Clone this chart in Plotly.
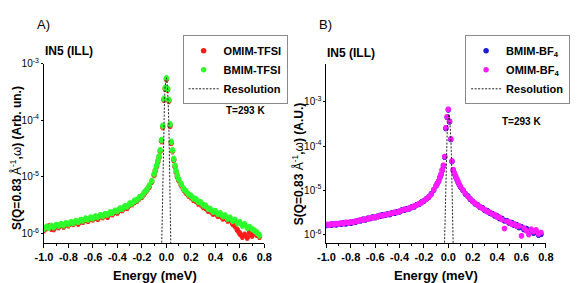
import plotly.graph_objects as go

W, H = 582, 283

# ---------------- data ----------------
energy = [
    -1.00, -0.98, -0.96, -0.94, -0.92, -0.90, -0.88, -0.86, -0.84, -0.82,
    -0.80, -0.78, -0.76, -0.74, -0.72, -0.70, -0.68, -0.66, -0.64, -0.62,
    -0.60, -0.58, -0.56, -0.54, -0.52, -0.50, -0.48, -0.46, -0.44, -0.42,
    -0.40, -0.38, -0.36, -0.34, -0.32, -0.30, -0.28, -0.26, -0.24, -0.22,
    -0.20, -0.18, -0.16, -0.14, -0.12, -0.10, -0.09, -0.08, -0.07, -0.06,
    -0.05, -0.04, -0.03, -0.02, -0.01, 0.00, 0.01, 0.02, 0.03, 0.04,
    0.05, 0.06, 0.07, 0.08, 0.09, 0.10, 0.12, 0.14, 0.16, 0.18,
    0.20, 0.22, 0.24, 0.26, 0.28, 0.30, 0.32, 0.34, 0.36, 0.38,
    0.40, 0.42, 0.44, 0.46, 0.48, 0.50, 0.52, 0.54, 0.56, 0.58,
    0.60, 0.62, 0.64, 0.66, 0.68, 0.70, 0.72, 0.74, 0.76]

omim_tfsi = [
    1.15e-6, 1.25e-6, 1.33e-6, 1.22e-6, 1.20e-6, 1.35e-6, 1.30e-6, 1.42e-6, 1.33e-6, 1.45e-6,
    1.40e-6, 1.52e-6, 1.48e-6, 1.60e-6, 1.50e-6, 1.65e-6, 1.62e-6, 1.75e-6, 1.68e-6, 1.85e-6,
    1.78e-6, 1.92e-6, 1.82e-6, 2.02e-6, 1.95e-6, 2.12e-6, 1.98e-6, 2.28e-6, 2.20e-6, 2.42e-6,
    2.35e-6, 2.65e-6, 2.60e-6, 2.90e-6, 2.85e-6, 3.25e-6, 3.30e-6, 3.65e-6, 3.80e-6, 4.20e-6,
    4.45e-6, 5.10e-6, 5.80e-6, 6.70e-6, 8.20e-6, 1.08e-5, 1.28e-5, 1.52e-5, 1.85e-5, 2.22e-5,
    2.85e-5, 4.30e-5, 7.60e-5, 2.30e-4, 3.60e-4, 5.30e-4, 3.50e-4, 2.20e-4, 8.00e-5, 4.00e-5,
    2.85e-5, 2.00e-5, 1.52e-5, 1.22e-5, 1.00e-5, 8.80e-6, 7.20e-6, 6.00e-6, 5.30e-6, 4.70e-6,
    4.40e-6, 3.95e-6, 3.80e-6, 3.40e-6, 3.30e-6, 2.95e-6, 2.85e-6, 2.55e-6, 2.50e-6, 2.25e-6,
    2.30e-6, 2.05e-6, 2.10e-6, 1.85e-6, 1.90e-6, 1.70e-6, 1.75e-6, 1.50e-6, 1.35e-6, 1.15e-6,
    1.00e-6, 0.88e-6, 0.95e-6, 0.85e-6, 1.05e-6, 0.92e-6, 1.10e-6, 0.95e-6, 0.88e-6]

bmim_tfsi = [
    1.22e-6, 1.31e-6, 1.27e-6, 1.36e-6, 1.30e-6, 1.41e-6, 1.38e-6, 1.46e-6, 1.40e-6, 1.51e-6,
    1.47e-6, 1.58e-6, 1.54e-6, 1.66e-6, 1.61e-6, 1.73e-6, 1.70e-6, 1.83e-6, 1.77e-6, 1.90e-6,
    1.86e-6, 2.00e-6, 1.95e-6, 2.10e-6, 2.03e-6, 2.19e-6, 2.17e-6, 2.35e-6, 2.33e-6, 2.52e-6,
    2.50e-6, 2.76e-6, 2.74e-6, 3.02e-6, 3.01e-6, 3.38e-6, 3.40e-6, 3.80e-6, 3.92e-6, 4.35e-6,
    4.60e-6, 5.32e-6, 5.95e-6, 7.00e-6, 8.45e-6, 1.12e-5, 1.32e-5, 1.58e-5, 1.91e-5, 2.29e-5,
    2.95e-5, 4.47e-5, 7.94e-5, 2.40e-4, 3.72e-4, 5.50e-4, 3.60e-4, 2.30e-4, 8.50e-5, 4.17e-5,
    2.95e-5, 2.09e-5, 1.58e-5, 1.26e-5, 1.05e-5, 9.12e-6, 7.55e-6, 6.20e-6, 5.60e-6, 4.92e-6,
    4.66e-6, 4.18e-6, 4.06e-6, 3.64e-6, 3.55e-6, 3.16e-6, 3.10e-6, 2.75e-6, 2.71e-6, 2.44e-6,
    2.48e-6, 2.22e-6, 2.27e-6, 2.02e-6, 2.08e-6, 1.84e-6, 1.90e-6, 1.67e-6, 1.74e-6, 1.52e-6,
    1.58e-6, 1.38e-6, 1.45e-6, 1.26e-6, 1.30e-6, 1.20e-6, 1.12e-6, 1.04e-6, 0.93e-6]

bmim_bf4 = [
    1.58e-6, 1.66e-6, 1.60e-6, 1.70e-6, 1.64e-6, 1.74e-6, 1.69e-6, 1.80e-6, 1.72e-6, 1.84e-6,
    1.77e-6, 1.90e-6, 1.88e-6, 2.05e-6, 2.02e-6, 2.18e-6, 2.12e-6, 2.30e-6, 2.27e-6, 2.45e-6,
    2.38e-6, 2.57e-6, 2.55e-6, 2.75e-6, 2.68e-6, 2.88e-6, 2.80e-6, 3.08e-6, 3.00e-6, 3.24e-6,
    3.22e-6, 3.55e-6, 3.55e-6, 3.80e-6, 3.80e-6, 4.15e-6, 4.18e-6, 4.66e-6, 4.80e-6, 5.35e-6,
    5.65e-6, 6.40e-6, 6.95e-6, 8.25e-6, 1.00e-5, 1.26e-5, 1.41e-5, 1.58e-5, 1.91e-5, 2.24e-5,
    2.82e-5, 3.55e-5, 5.62e-5, 2.51e-4, 4.47e-4, 6.61e-4, 3.55e-4, 1.41e-4, 4.47e-5, 2.82e-5,
    2.40e-5, 2.00e-5, 1.74e-5, 1.51e-5, 1.32e-5, 1.17e-5, 9.90e-6, 8.20e-6, 7.35e-6, 6.20e-6,
    5.60e-6, 4.90e-6, 4.67e-6, 4.08e-6, 3.98e-6, 3.47e-6, 3.39e-6, 3.02e-6, 2.95e-6, 2.62e-6,
    2.58e-6, 2.28e-6, 2.28e-6, 2.03e-6, 2.03e-6, 1.80e-6, 1.84e-6, 1.60e-6, 1.64e-6, 1.42e-6,
    1.47e-6, 1.28e-6, 1.35e-6, 1.17e-6, 1.22e-6, 1.07e-6, 1.12e-6, 0.96e-6, 1.00e-6]

omim_bf4 = [
    1.68e-6, 1.60e-6, 1.72e-6, 1.65e-6, 1.76e-6, 1.68e-6, 1.80e-6, 1.74e-6, 1.86e-6, 1.78e-6,
    1.92e-6, 1.85e-6, 1.98e-6, 1.98e-6, 2.12e-6, 2.08e-6, 2.22e-6, 2.20e-6, 2.38e-6, 2.35e-6,
    2.48e-6, 2.45e-6, 2.68e-6, 2.62e-6, 2.80e-6, 2.78e-6, 2.95e-6, 2.98e-6, 3.15e-6, 3.12e-6,
    3.35e-6, 3.45e-6, 3.70e-6, 3.65e-6, 3.95e-6, 4.05e-6, 4.35e-6, 4.55e-6, 4.95e-6, 5.20e-6,
    5.80e-6, 6.30e-6, 7.15e-6, 8.10e-6, 1.02e-5, 1.28e-5, 1.43e-5, 1.60e-5, 1.95e-5, 2.30e-5,
    2.90e-5, 3.65e-5, 5.80e-5, 2.60e-4, 4.60e-4, 6.80e-4, 3.65e-4, 1.45e-4, 4.60e-5, 2.90e-5,
    2.45e-5, 2.05e-5, 1.78e-5, 1.55e-5, 1.35e-5, 1.20e-5, 1.00e-5, 8.40e-6, 7.20e-6, 6.40e-6,
    5.50e-6, 5.05e-6, 4.55e-6, 4.20e-6, 3.85e-6, 3.60e-6, 3.25e-6, 3.15e-6, 2.82e-6, 2.78e-6,
    2.45e-6, 2.42e-6, 2.15e-6, 1.35e-6, 1.95e-6, 1.88e-6, 1.70e-6, 1.72e-6, 1.52e-6, 1.55e-6,
    0.92e-6, 1.38e-6, 1.20e-6, 0.98e-6, 1.30e-6, 1.15e-6, 1.25e-6, 1.02e-6, 1.10e-6]

res_energy_a = [-0.050, -0.045, -0.040, -0.035, -0.030, -0.025, -0.020, -0.015, -0.010, -0.005,
                0.000, 0.005, 0.010, 0.015, 0.020, 0.025, 0.030, 0.035, 0.040, 0.045]
res_a = [3e-8, 1.3e-7, 6.3e-7, 3.2e-6, 1.26e-5, 4.0e-5, 1.12e-4, 2.4e-4, 4.0e-4, 5.2e-4,
         5.6e-4, 5.0e-4, 3.55e-4, 2.0e-4, 8.9e-5, 2.8e-5, 6.3e-6, 1.0e-6, 1.3e-7, 2.5e-8]

res_energy_b = [-0.040, -0.035, -0.030, -0.025, -0.020, -0.015, -0.010, -0.005, 0.000, 0.005,
                0.010, 0.015, 0.020, 0.025, 0.030, 0.035, 0.040, 0.045, 0.050]
res_b = [6e-8, 3e-7, 1.5e-6, 6.5e-6, 2.5e-5, 7.5e-5, 1.8e-4, 3.4e-4, 4.8e-4, 5.3e-4,
         4.6e-4, 3.1e-4, 1.6e-4, 6.5e-5, 2.1e-5, 5.0e-6, 1.0e-6, 1.6e-7, 2e-8]

x_tick_vals = [-1.0, -0.8, -0.6, -0.4, -0.2, 0.0, 0.2, 0.4, 0.6, 0.8]
x_tick_text = ["-1.0", "-0.8", "-0.6", "-0.4", "-0.2", "0.0", "0.2", "0.4", "0.6", "0.8"]
y_tick_vals = [1e-6, 1e-5, 1e-4, 1e-3]
y_tick_text = ["10<sup>-6</sup>", "10<sup>-5</sup>", "10<sup>-4</sup>", "10<sup>-3</sup>"]

# ---------------- styling ----------------
FONT = "Liberation Sans, Arial, sans-serif"


def px(x):
    return x / W


def py(y):
    return 1 - y / H


def scatter(xv, yv, name, color, xa, ya, legend):
    return go.Scatter(
        x=xv, y=yv, mode="markers", name=name, xaxis=xa, yaxis=ya, legend=legend,
        marker=dict(color=color, size=5.5, line=dict(width=0)),
        error_y=dict(type="percent", value=11, color=color, thickness=1, width=1.5),
    )


fig = go.Figure()
fig.add_trace(scatter(energy, omim_tfsi, "<b>OMIM-TFSI</b>", "#ff1a1a", "x", "y", "legend"))
fig.add_trace(scatter(energy, bmim_tfsi, "<b>BMIM-TFSI</b>", "#2cff2c", "x", "y", "legend"))
fig.add_trace(go.Scatter(x=res_energy_a, y=res_a, mode="lines", name="<b>Resolution</b>",
                         xaxis="x", yaxis="y", legend="legend",
                         line=dict(color="#222222", width=1, dash="2px,1.5px")))

fig.add_trace(scatter(energy, bmim_bf4, "<b>BMIM-BF<sub>4</sub></b>", "#1c1cd8", "x2", "y2", "legend2"))
fig.add_trace(scatter(energy, omim_bf4, "<b>OMIM-BF<sub>4</sub></b>", "#ff1aff", "x2", "y2", "legend2"))
fig.add_trace(go.Scatter(x=res_energy_b, y=res_b, mode="lines", name="<b>Resolution</b>",
                         xaxis="x2", yaxis="y2", legend="legend2",
                         line=dict(color="#222222", width=1, dash="2px,1.5px")))

xcommon = dict(
    range=[-1.0, 0.8], showline=True, linecolor="black", linewidth=1,
    ticks="outside", ticklen=4, tickcolor="black", tickvals=x_tick_vals, ticktext=x_tick_text,
    tickfont=dict(family=FONT, size=11, color="black", weight="bold"),
    showgrid=False, zeroline=False,
    minor=dict(ticks="outside", ticklen=2, dtick=0.1, tick0=-1.0, tickcolor="black", showgrid=False),
)
ycommon = dict(
    type="log", showline=True, linecolor="black", linewidth=1,
    ticks="outside", ticklen=2, tickcolor="black", tickvals=y_tick_vals, ticktext=y_tick_text,
    tickfont=dict(family=FONT, size=10, color="black"),
    showgrid=False, zeroline=False,
)

legend_common = dict(
    bgcolor="white", bordercolor="#8a8a8a", borderwidth=1,
    font=dict(family=FONT, size=11, color="black"),
    xanchor="right", yanchor="top", tracegroupgap=0, itemwidth=30,
)

fig.update_layout(
    width=W, height=H, margin=dict(l=0, r=0, t=0, b=0),
    paper_bgcolor="white", plot_bgcolor="white",
    font=dict(family=FONT, color="black"),
    xaxis=dict(domain=[px(36), px(263)], anchor="y", **xcommon),
    yaxis=dict(domain=[py(242), py(58)], anchor="x", range=[-6.17, -3.0], **ycommon),
    xaxis2=dict(domain=[px(327), px(553)], anchor="y2", **xcommon),
    yaxis2=dict(domain=[py(242), py(58)], anchor="x2", range=[-6.2, -2.13], **ycommon),
    legend=dict(x=px(287), y=py(29), **legend_common),
    legend2=dict(x=px(578), y=py(29), **legend_common),
    showlegend=True,
)

ann = [
    dict(text="A)", x=px(27), y=py(18), xanchor="left", size=13, bold=False),
    dict(text="B)", x=px(317), y=py(18), xanchor="left", size=13, bold=False),
    dict(text="IN5 (ILL)", x=px(35), y=py(45), xanchor="left", size=12, bold=True),
    dict(text="IN5 (ILL)", x=px(326), y=py(47), xanchor="left", size=12, bold=True),
    dict(text="T=293 K", x=px(244), y=py(106), xanchor="center", size=10, bold=True),
    dict(text="T=293 K", x=px(528), y=py(117), xanchor="center", size=10, bold=True),
    dict(text="Energy (meV)", x=px(150), y=py(275), xanchor="center", size=13, bold=True),
    dict(text="Energy (meV)", x=px(440), y=py(275), xanchor="center", size=13, bold=True),
]
for a in ann:
    t = "<b>%s</b>" % a["text"] if a["bold"] else a["text"]
    fig.add_annotation(text=t, x=a["x"], y=a["y"], xref="paper", yref="paper",
                       xanchor=a["xanchor"], yanchor="middle", showarrow=False,
                       font=dict(family=FONT, size=a["size"], color="black"))

ytitle_a = "<b>S(Q=0.83 </b>Å<sup>-1</sup><b>,</b>ω<b>) (Arb. un.)</b>"
ytitle_b = "<b>S(Q=0.83 </b>Å<sup>-1</sup><b>,</b>ω<b>) (A.U.)</b>"
fig.add_annotation(text=ytitle_a, x=px(7), y=py(155), xref="paper", yref="paper",
                   textangle=-90, showarrow=False, xanchor="center", yanchor="middle",
                   font=dict(family=FONT, size=12, color="black"))
fig.add_annotation(text=ytitle_b, x=px(298), y=py(161), xref="paper", yref="paper",
                   textangle=-90, showarrow=False, xanchor="center", yanchor="middle",
                   font=dict(family=FONT, size=12, color="black"))

fig.write_html("out.html")
